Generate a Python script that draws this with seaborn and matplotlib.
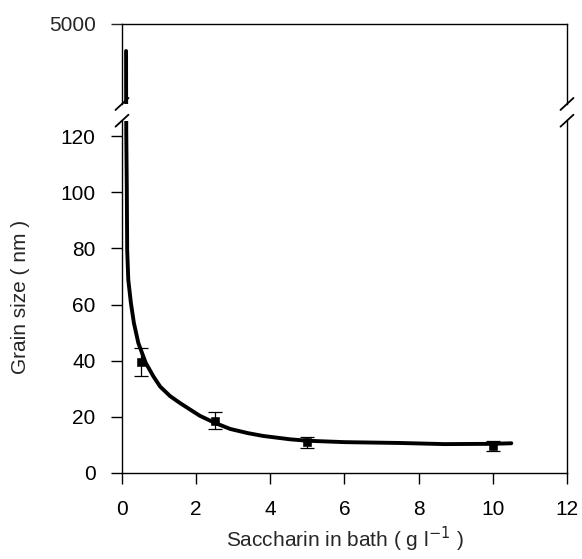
import numpy as np
import pandas as pd
import matplotlib
matplotlib.use("Agg")
import matplotlib.pyplot as plt
import seaborn as sns

# measured grain size vs saccharin concentration
sacch = [0.5, 2.5, 5.0, 10.0]
grain = [39.6, 18.5, 10.9, 9.5]
grain_err = [5.0, 3.0, 2.0, 1.9]

# fitted curve
fit_x = [0.11, 0.112, 0.115, 0.13, 0.14, 0.17, 0.24, 0.32, 0.44, 0.64, 0.85, 1.03,
         1.3, 1.57, 2.1, 2.5, 2.92, 3.4, 3.81, 4.54, 5.0, 6.0, 7.5, 8.7, 10.0, 10.5]
fit_y = [3650, 1300, 122, 101, 79.5, 68.8, 60.6, 53.5, 46.3, 39.2, 34.3, 30.7,
         27.3, 24.8, 20.3, 17.8, 15.6, 14.1, 13.1, 11.9, 11.4, 10.9, 10.6, 10.2, 10.3, 10.5]

x_ticks = [0, 2, 4, 6, 8, 10, 12]
y_ticks = [0, 20, 40, 60, 80, 100, 120]

sns.set_style("ticks")
plt.rcParams["font.family"] = ["Liberation Sans", "DejaVu Sans"]
plt.rcParams["font.size"] = 15

fig = plt.figure(figsize=(5.82, 5.59), dpi=100)
ax_top = fig.add_axes([0.2096, 0.814, 0.7646, 0.1431])
ax = fig.add_axes([0.2096, 0.1544, 0.7646, 0.6297])

fit = pd.DataFrame({"x": fit_x, "y": fit_y})
pts = pd.DataFrame({"x": sacch, "y": grain})

for a in (ax_top, ax):
    sns.lineplot(data=fit, x="x", y="y", ax=a, color="black", linewidth=2.8,
                 sort=False, estimator=None)
    a.errorbar(sacch, grain, yerr=grain_err, fmt="none", ecolor="black",
               elinewidth=0.9, capsize=5, capthick=0.9)
    sns.scatterplot(data=pts, x="x", y="y", ax=a, marker="s", s=28,
                    color="black", edgecolor="black", zorder=5)
    a.set_xlim(0, 12)
    for s in a.spines.values():
        s.set_linewidth(1.0)
        s.set_color("black")

ax.set_ylim(0, 125.6)
ax.set_xticks(x_ticks)
ax.set_yticks(y_ticks)
ax.spines["top"].set_visible(False)
ax.tick_params(direction="out", length=8, width=1.0, colors="black")
ax.tick_params(axis="x", pad=12)
ax.tick_params(axis="y", pad=11)
ax.set_xlabel("Saccharin in bath ( g l$^{-1}$ )", labelpad=4)
ax.set_ylabel("Grain size ( nm )", labelpad=22)

ax_top.set_ylim(1000, 5000)
ax_top.set_yticks([5000])
ax_top.set_xticks([])
ax_top.spines["bottom"].set_visible(False)
ax_top.tick_params(axis="y", direction="out", length=8, width=1.0, pad=11)
ax_top.set_xlabel("")
ax_top.set_ylabel("")

# break marks on both side spines
dx = 0.0146
kw = dict(color="black", linewidth=1.3, clip_on=False)
for xa in (0, 1):
    ax_top.plot([xa - dx, xa + dx], [-0.075, 0.075],
                transform=ax_top.transAxes, **kw)
    ax.plot([xa - dx, xa + dx], [1.0 - 0.017, 1.0 + 0.017],
            transform=ax.transAxes, **kw)

fig.savefig("out.png", dpi=100)
